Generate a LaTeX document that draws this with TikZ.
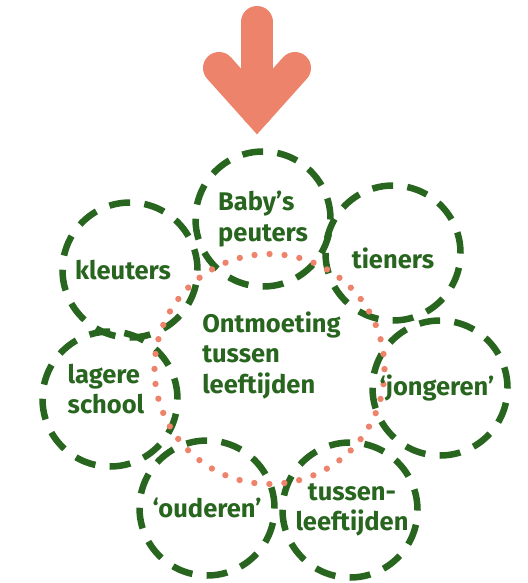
\documentclass[tikz,border=0pt]{standalone}
\usepackage{fontspec}
\setmainfont{Fira Sans}[BoldFont={Fira Sans Bold}]
\definecolor{leafgreen}{HTML}{28651F}
\definecolor{salmon}{HTML}{EE836B}
\tikzset{
  agering/.style={circle, draw=leafgreen, line width=6.5pt, dash pattern=on 21pt off 14.3pt, minimum size=135pt, inner sep=0pt},
  meetring/.style={circle, draw=salmon, line width=6.3pt, line cap=round, dash pattern=on 0pt off 15.05pt, minimum size=230pt, inner sep=0pt},
  lbl/.style={text=leafgreen, font=\fontsize{25.5}{30.5}\selectfont\bfseries, inner sep=0pt},
  bigarrow/.style={draw=salmon, line width=32pt, line cap=round, line join=miter},
}
\begin{document}
\begin{tikzpicture}[x=1pt, y=-1pt]
\useasboundingbox (0,0) rectangle (527,583);

% arrow on top
\coordinate (tail) at (257,22);
\coordinate (tip) at (257,110.4);
\draw[bigarrow] (tail) -- (tip);
\draw[bigarrow] (219,68) -- (tip) -- (295,68);

% age groups
\node[agering] (baby) at (263,219) {};
\node[agering] (kleuters) at (130,270) {};
\node[agering] (tieners) at (393,253) {};
\node[agering] (lagere) at (110,399) {};
\node[agering] (jongeren) at (440,388) {};
\node[agering] (ouderen) at (207,508) {};
\node[agering] (tussen) at (350,510) {};

\node[meetring] (meet) at (269.5,369) {};

\node[lbl, align=left] at (baby) {Baby’s\\peuters};
\node[lbl, xshift=-7pt] at (kleuters) {kleuters};
\node[lbl, yshift=-5pt] at (tieners) {tieners};
\node[lbl, align=left, xshift=-4pt, yshift=10pt] at (lagere) {lagere\\school};
\node[lbl, xshift=-3pt] at (jongeren) {‘jongeren’};
\node[lbl] at (ouderen) {‘ouderen’};
\node[lbl, align=center, xshift=2pt] at (tussen) {tussen-\\leeftijden};
\node[lbl, align=left, xshift=2pt, yshift=14pt] at (meet) {Ontmoeting\\tussen\\leeftijden};

\end{tikzpicture}
\end{document}
